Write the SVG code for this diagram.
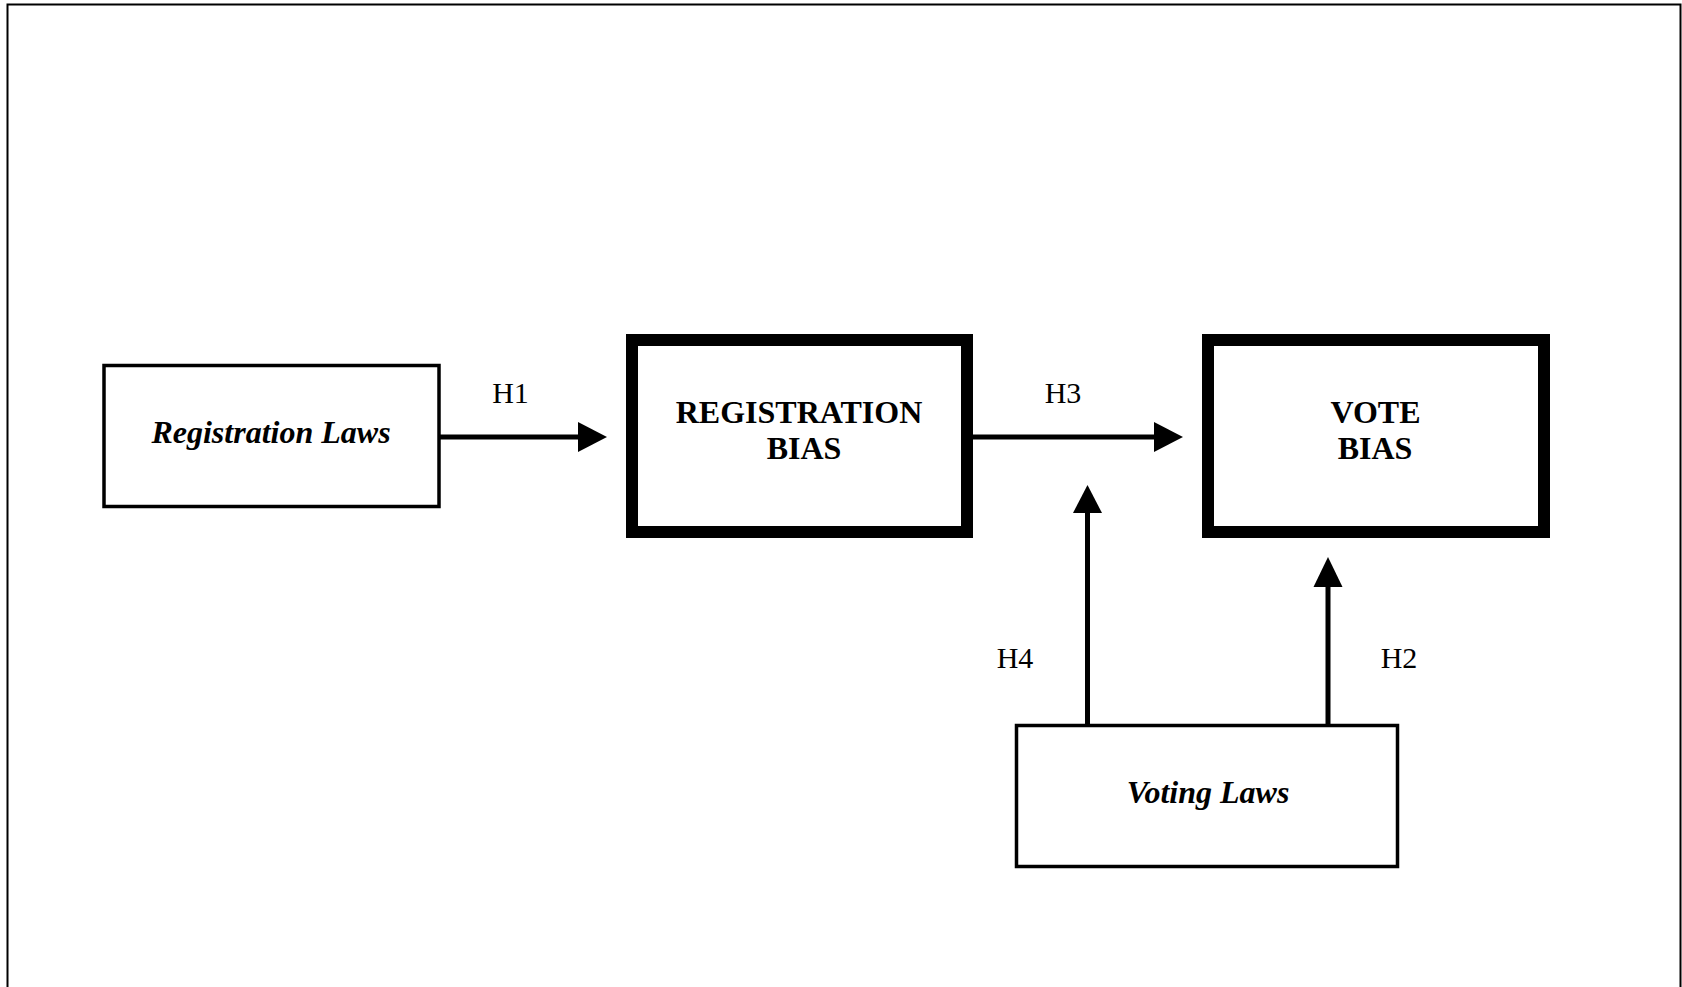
<svg xmlns="http://www.w3.org/2000/svg" width="1682" height="987" viewBox="0 0 1682 987">
<style>
.bg{fill:#fff}
.frame{fill:none;stroke:#000;stroke-width:2}
.thin{fill:#fff;stroke:#000;stroke-width:3.5}
.thick{fill:#fff;stroke:#000;stroke-width:12}
.lbl{font-family:"Liberation Serif","Times New Roman",serif;font-size:30px;fill:#000;text-anchor:middle}
.bi{font-family:"Liberation Serif","Times New Roman",serif;font-size:32px;font-weight:bold;font-style:italic;fill:#000;text-anchor:middle}
.b{font-family:"Liberation Serif","Times New Roman",serif;font-size:32px;font-weight:bold;fill:#000;text-anchor:middle}
.conn line{stroke:#000;stroke-width:5}
.conn polygon{fill:#000}
</style>
<rect class="bg" x="0" y="0" width="1682" height="987"/>
<rect class="frame" x="7.5" y="4.5" width="1673" height="1000"/>
<g id="registration-laws">
<rect class="thin" x="104" y="365.5" width="335" height="141"/>
<text class="bi" x="271" y="443">Registration Laws</text>
</g>
<g id="registration-bias">
<rect class="thick" x="632" y="340" width="335" height="192"/>
<text class="b" x="799" y="423">REGISTRATION</text>
<text class="b" x="804" y="459">BIAS</text>
</g>
<g id="vote-bias">
<rect class="thick" x="1208" y="340" width="336" height="192"/>
<text class="b" x="1375.5" y="423">VOTE</text>
<text class="b" x="1375" y="459">BIAS</text>
</g>
<g id="voting-laws">
<rect class="thin" x="1016.5" y="725.5" width="381" height="141"/>
<text class="bi" x="1208" y="803">Voting Laws</text>
</g>
<g id="connectors" class="conn">
<line x1="440" y1="437" x2="580" y2="437"/>
<polygon points="578,422 607,437 578,452"/>
<line x1="973" y1="437" x2="1156" y2="437"/>
<polygon points="1154,422 1183,437 1154,452"/>
<line x1="1087.5" y1="724" x2="1087.5" y2="511"/>
<polygon points="1073,513 1087.5,485 1102,513"/>
<line x1="1328" y1="724" x2="1328" y2="585"/>
<polygon points="1313.5,587 1328,557 1342.5,587"/>
</g>
<g id="labels">
<text class="lbl" x="510.5" y="403">H1</text>
<text class="lbl" x="1063" y="403">H3</text>
<text class="lbl" x="1015" y="668">H4</text>
<text class="lbl" x="1399" y="668">H2</text>
</g>
</svg>
